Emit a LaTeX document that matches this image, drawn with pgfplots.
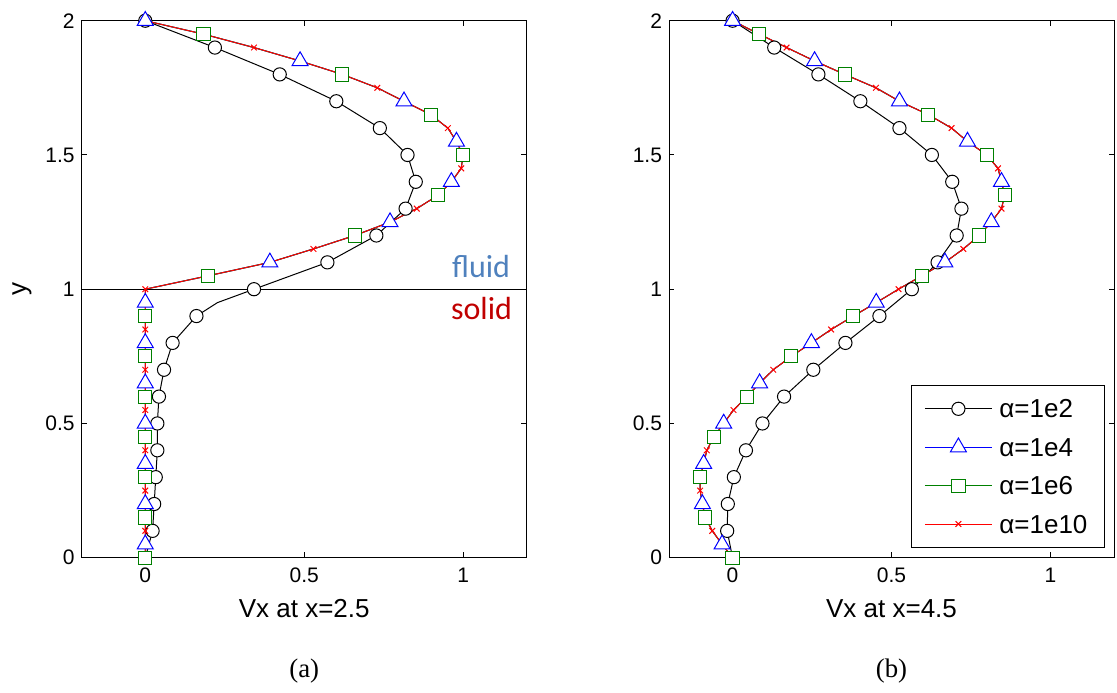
\documentclass[border=0pt]{standalone}
\usepackage{pgfplots}
\usepackage{pgfplotstable}
\pgfplotsset{compat=1.18}
\usepackage{fontspec}
\setmainfont{Liberation Sans}
\newfontfamily\timesfont{Liberation Serif}
\newfontfamily\calibri{Carlito}
\definecolor{mgreen}{RGB}{0,128,0}
\definecolor{fluidblue}{RGB}{79,129,189}
\definecolor{solidred}{RGB}{192,0,0}

% (a) alpha=1e2
\pgfplotstableread{
y v
0.00 0.000
0.10 0.023
0.20 0.028
0.30 0.033
0.40 0.038
0.50 0.038
0.60 0.043
0.70 0.059
0.80 0.086
0.90 0.161
0.95 0.227
1.00 0.342
1.10 0.573
1.20 0.727
1.30 0.819
1.40 0.851
1.50 0.825
1.60 0.738
1.70 0.601
1.80 0.423
1.90 0.219
2.00 0.000
}\aOne
% (a) alpha=1e4,1e6,1e10
\pgfplotstableread{
y v
0.00 0.000
0.05 0.000
0.10 0.000
0.15 0.000
0.20 0.000
0.25 0.000
0.30 0.000
0.35 0.000
0.40 0.000
0.45 0.000
0.50 0.000
0.55 0.000
0.60 0.000
0.65 0.000
0.70 0.000
0.75 0.000
0.80 0.000
0.85 0.000
0.90 0.000
0.95 0.000
1.00 0.000
1.05 0.198
1.10 0.392
1.15 0.529
1.20 0.659
1.25 0.770
1.30 0.854
1.35 0.921
1.40 0.963
1.45 0.994
1.50 1.000
1.55 0.979
1.60 0.952
1.65 0.898
1.70 0.814
1.75 0.730
1.80 0.620
1.85 0.487
1.90 0.342
1.95 0.183
2.00 0.000
}\aHigh
% (b) alpha=1e2
\pgfplotstableread{
y v
0.00 0.000
0.10 -0.017
0.20 -0.015
0.30 0.004
0.40 0.042
0.50 0.094
0.60 0.162
0.70 0.254
0.80 0.355
0.90 0.462
1.00 0.564
1.10 0.645
1.20 0.705
1.30 0.720
1.40 0.691
1.50 0.627
1.60 0.525
1.70 0.402
1.80 0.270
1.90 0.131
2.00 0.000
}\bOne
% (b) alpha=1e4,1e6,1e10
\pgfplotstableread{
y v
0.00 0.000
0.05 -0.033
0.10 -0.064
0.15 -0.086
0.20 -0.095
0.25 -0.102
0.30 -0.102
0.35 -0.091
0.40 -0.081
0.45 -0.059
0.50 -0.028
0.55 0.003
0.60 0.045
0.65 0.085
0.70 0.128
0.75 0.185
0.80 0.248
0.85 0.310
0.90 0.380
0.95 0.452
1.00 0.522
1.05 0.595
1.10 0.668
1.15 0.726
1.20 0.776
1.25 0.814
1.30 0.846
1.35 0.856
1.40 0.846
1.45 0.835
1.50 0.800
1.55 0.739
1.60 0.689
1.65 0.616
1.70 0.525
1.75 0.451
1.80 0.353
1.85 0.258
1.90 0.170
1.95 0.084
2.00 0.000
}\bHigh

\pgfplotsset{
  myax/.style={
    scale only axis, width=222.5pt, height=268.5pt,
    xmin=-0.2, xmax=1.2, ymin=0, ymax=2,
    xtick={0,0.5,1}, ytick={0,0.5,1,1.5,2},
    tick align=inside, major tick length=2.7pt,
    /pgf/number format/assume math mode=true,
    tick label style={font=\fontsize{10.5}{12}\selectfont},
    xticklabel style={yshift=-1.5pt},
    label style={font=\fontsize{13}{15}\selectfont},
    xlabel style={at={(axis description cs:0.5,-0.1117)}, anchor=base},
    axis line style={black, line width=0.5pt},
    every tick/.style={black, line width=0.5pt},
    clip=false,
    anchor=south west,
  },
  cA/.style={black, line width=0.5pt, mark=*, mark size=3.3pt, mark options={solid, fill=white, draw=black, line width=0.5pt}},
  cB/.style={blue, line width=0.5pt, mark=triangle*, mark size=4.6pt, mark options={solid, fill=white, draw=blue, line width=0.5pt}},
  cC/.style={mgreen, line width=0.5pt, mark=square*, mark size=3.3pt, mark options={solid, fill=white, draw=mgreen, line width=0.5pt}},
  cD/.style={red, line width=0.5pt, mark=x, mark size=2pt, mark options={solid, draw=red, line width=0.5pt}},
}

\begin{document}
\begin{tikzpicture}
\path[use as bounding box] (0,0) rectangle (558.5pt,346pt);

\begin{axis}[myax, at={(40.85pt,67.15pt)},
  xlabel={Vx at x=2.5}, ylabel={y},
  ylabel style={at={(axis description cs:-0.134,0.5)}, anchor=center}]
\addplot[black, line width=0.5pt] coordinates {(-0.2,1) (1.2,1)};
\addplot[cA, mark indices={2,3,4,5,6,7,8,9,10,12,13,14,15,16,17,18,19,20,21,22}] table[x=v,y=y] {\aOne};
\addplot[cB, mark repeat=3, mark phase=2] table[x=v,y=y] {\aHigh};
\addplot[cC, mark repeat=3, mark phase=1] table[x=v,y=y] {\aHigh};
\addplot[cD, mark repeat=3, mark phase=3] table[x=v,y=y] {\aHigh};
\node[anchor=base east, inner sep=0pt, text=fluidblue, font=\calibri\fontsize{16}{18}\selectfont] at (axis cs:1.149,1.0435) {fluid};
\node[anchor=base east, inner sep=0pt, text=solidred, font=\calibri\fontsize{16}{18}\selectfont] at (axis cs:1.155,0.888) {solid};
\node[anchor=base, inner sep=0pt, font=\timesfont\fontsize{13.4}{16}\selectfont] at (axis description cs:0.5,-0.2222) {(a)};
\end{axis}

\begin{axis}[myax, at={(334.5pt,67.15pt)},
  xlabel={Vx at x=4.5},
  legend cell align=left,
  legend style={at={(axis description cs:0.98,0.0186)}, anchor=south east,
    draw=black, line width=0.5pt, fill=white, inner xsep=0pt, inner ysep=6.6pt,
    row sep=9.2pt, font=\fontsize{13}{15}\selectfont,
    nodes={inner xsep=0pt, inner ysep=0pt, text height=9.5pt, text depth=0.5pt, text width=52.6pt, align=left}},
  legend image code/.code={%
    \draw[mark repeat=2,mark phase=2] plot coordinates {(0pt,0pt) (16.75pt,0pt) (33.5pt,0pt)};
    \path (-6.65pt,0pt) (37pt,0pt);}]
\addplot[cA, mark repeat=1, mark phase=2] table[x=v,y=y] {\bOne};
\addlegendentry{α=1e2}
\addplot[cB, mark repeat=3, mark phase=2] table[x=v,y=y] {\bHigh};
\addlegendentry{α=1e4}
\addplot[cC, mark repeat=3, mark phase=1] table[x=v,y=y] {\bHigh};
\addlegendentry{α=1e6}
\addplot[cD, mark repeat=3, mark phase=3] table[x=v,y=y] {\bHigh};
\addlegendentry{α=1e10}
\node[anchor=base, inner sep=0pt, font=\timesfont\fontsize{13.4}{16}\selectfont] at (axis description cs:0.5,-0.2222) {(b)};
\end{axis}
\end{tikzpicture}
\end{document}
